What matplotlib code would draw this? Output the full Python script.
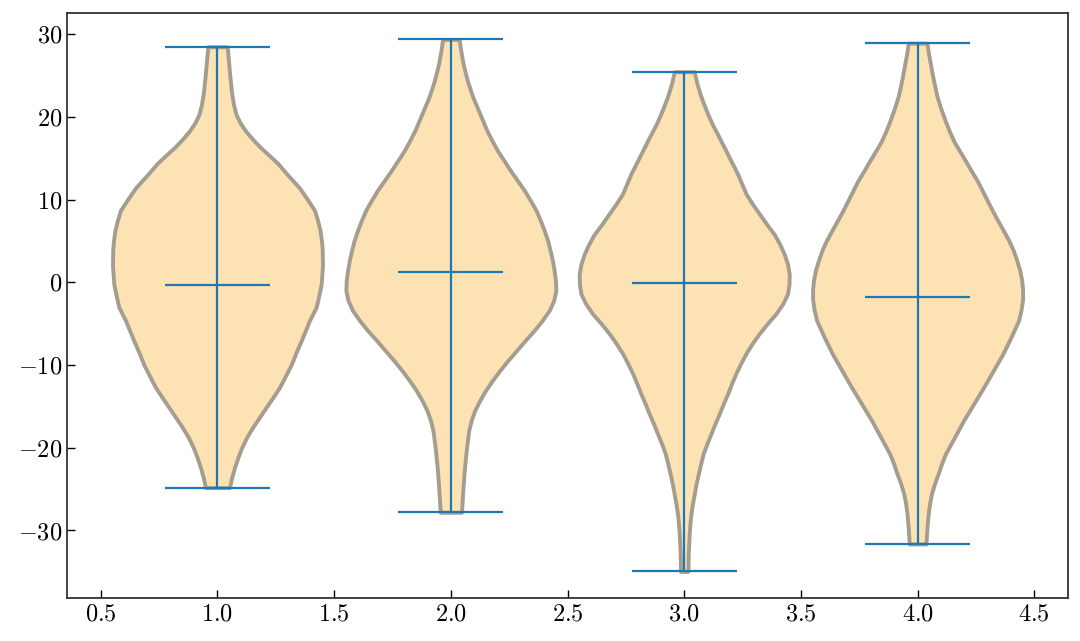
import numpy as np
import matplotlib
matplotlib.use("Agg")
import matplotlib.pyplot as plt

plt.rcParams['font.family'] = 'serif'
plt.rcParams['font.serif'] = ['cmr10']
plt.rcParams['mathtext.fontset'] = 'cm'
plt.rcParams['axes.formatter.use_mathtext'] = True

# violin outlines: height (y) and half width (w, relative)
v1_y = [28.46, 27.0, 25.0, 23.0, 21.5, 20.3, 19.3, 18.3, 17.3, 16.3, 15.3, 14.4,
        13.0, 11.4, 10.0, 8.7, 7.5, 6.3, 5.0, 4.0, 2.0, -0.2, -1.5, -3.0, -4.6,
        -5.8, -7.05, -8.5, -9.95, -11.3, -12.7, -13.9, -15.1, -16.3, -17.5,
        -18.7, -19.95, -21.2, -22.4, -23.6, -24.82]
v1_w = [9.7, 10.8, 12.3, 14.0, 16.0, 18.5, 22.5, 28, 35, 43, 52, 60,
        70, 82, 90, 97, 100, 102.5, 104, 104.7, 105, 103.7, 101.5, 98.7, 92,
        88, 83.7, 78.5, 73.7, 68, 62, 55.5, 48.7, 42, 35.3,
        29.3, 24.3, 20.3, 17, 14.2, 12]

v2_y = [29.35, 28.0, 26.4, 24.4, 22.4, 20.4, 18.4, 17.1, 15.9, 14.7, 13.5, 12.3,
        11.1, 9.9, 8.7, 7.5, 6.25, 5.0, 3.8, 2.6, 1.4, 0.2, -1.0, -2.2, -3.4,
        -4.6, -5.8, -7.0, -8.3, -9.5, -10.7, -11.9, -13.1, -14.3, -15.5, -16.7,
        -17.9, -20.3, -22.7, -25.2, -27.8]
v2_w = [8.3, 10, 12.3, 16.5, 22, 29, 36, 41.5, 47, 53.5, 60, 67,
        74, 80, 85.7, 90, 94, 97.5, 100, 102.3, 104, 105.3, 105.7, 103.5, 99,
        92, 84, 75, 65.7, 57, 49, 41.5, 34.7, 29, 24, 20.5,
        18, 15.5, 13.5, 12, 10.7]

v3_y = [25.44, 24.1, 22.8, 21.6, 20.4, 19.1, 17.9, 16.7, 15.5, 14.3, 13.1, 11.9,
        10.7, 9.5, 8.3, 7.0, 5.8, 4.6, 3.4, 2.2, 1.0, -0.2, -1.4, -2.6, -3.8,
        -5.0, -6.2, -7.4, -8.6, -9.8, -11.0, -12.2, -13.5, -14.7, -15.9, -17.1,
        -18.3, -19.5, -20.7, -22.0, -23.2, -24.4, -25.6, -26.8, -28.0, -29.2,
        -30.4, -32.9, -34.95]
v3_w = [10, 12.5, 15.7, 19.3, 23.3, 28, 33.3, 38.3, 43.3, 48.3, 53.3, 57.5,
        61.7, 68, 75, 82.5, 90, 95.5, 100, 103.3, 105, 104.8, 103.3, 98.5, 91.7,
        83, 75, 68, 61.7, 56.5, 51.7, 47.5, 43.3, 39, 35, 30.7,
        26.7, 22.7, 19, 16.3, 14, 11.8, 10, 8.2, 6.7, 5.7,
        5, 4, 3.7]

v4_y = [28.9, 27.7, 26.45, 24.5, 22.5, 20.9, 19.3, 18.1, 16.95, 15.8, 14.6, 13.4,
        12.2, 11.0, 9.8, 8.6, 7.5, 6.3, 5.1, 3.9, 2.7, 1.5, 0.34, -0.85, -2.04,
        -3.3, -4.6, -6.6, -8.7, -10.7, -12.7, -14.7, -16.7, -18.7, -20.7, -21.9,
        -23.1, -24.3, -25.5, -26.7, -27.9, -29.1, -30.4, -31.63]
v4_w = [9.3, 10.8, 12.7, 15.7, 19.3, 23.5, 28.3, 32.3, 36.7, 42.3, 48.3, 54,
        60, 65, 70, 75, 80, 85.5, 91, 95.5, 99, 102, 104, 105, 105,
        103.5, 101, 93.5, 85, 75.5, 66, 56, 46, 37, 28, 24,
        20.7, 17, 14, 12, 10.7, 9.7, 9, 8.3]

means = [-0.28, 1.21, -0.12, -1.77]
mins = [-24.82, -27.8, -34.95, -31.63]
maxs = [28.46, 29.35, 25.44, 28.9]
positions = [1, 2, 3, 4]

xticks = [0.5, 1.0, 1.5, 2.0, 2.5, 3.0, 3.5, 4.0, 4.5]
yticks = [-30, -20, -10, 0, 10, 20, 30]

outlines = [(v1_y, v1_w), (v2_y, v2_w), (v3_y, v3_w), (v4_y, v4_w)]
vpstats = []
for i, (ys, ws) in enumerate(outlines):
    vpstats.append({
        'coords': np.array(ys[::-1], dtype=float),
        'vals': np.array(ws[::-1], dtype=float),
        'mean': means[i],
        'median': means[i],
        'min': mins[i],
        'max': maxs[i],
    })

fig = plt.figure(figsize=(10.8, 6.41), dpi=100)
ax = fig.add_axes([0.062, 0.067, 0.927, 0.913])

parts = ax.violin(vpstats, positions=positions, widths=0.9,
                  showmeans=True, showextrema=True, showmedians=False)

for pc in parts['bodies']:
    pc.set_facecolor('#FDE2B3')
    pc.set_edgecolor('#A59D90')
    pc.set_linewidth(2.8)
    pc.set_joinstyle('round')
    pc.set_alpha(1)

for key in ['cmeans', 'cmins', 'cmaxes', 'cbars']:
    parts[key].set_color('#1f77b4')
    parts[key].set_linewidth(1.6)

ax.set_xticks(xticks)
ax.set_yticks(yticks)
ax.tick_params(direction='in', length=6, width=1, labelsize=17.5,
               top=False, right=False)

for s in ax.spines.values():
    s.set_color('#333333')
    s.set_linewidth(1.3)

fig.savefig('out.png', dpi=100)
